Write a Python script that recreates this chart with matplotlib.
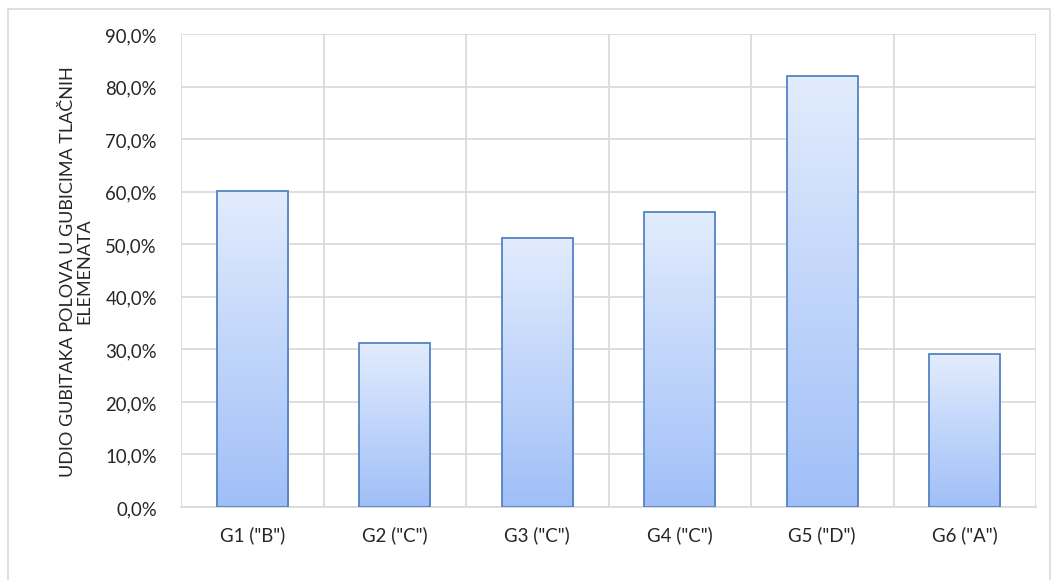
import numpy as np
import matplotlib
matplotlib.use("Agg")
import matplotlib.pyplot as plt
from matplotlib.patches import Rectangle
from matplotlib.colors import LinearSegmentedColormap
from matplotlib.ticker import FuncFormatter

categories = ['G1 ("B")', 'G2 ("C")', 'G3 ("C")', 'G4 ("C")', 'G5 ("D")', 'G6 ("A")']
values = [60.2, 31.3, 51.2, 56.1, 82.0, 29.1]
y_label = "UDIO GUBITAKA POLOVA U GUBICIMA TLAČNIH\nELEMENATA"

plt.rcParams['font.family'] = ['Lato', 'DejaVu Sans']

fig = plt.figure(figsize=(11, 6.052), dpi=96)
ax = fig.add_axes([181/1056, 1 - 508/581, (1036-181)/1056, (508-35)/581])

# frame around the whole chart
fig.patches.append(Rectangle((8/1056, -0.05), (1050-8)/1056, 1 - 10/581 + 0.05,
                             transform=fig.transFigure, fill=False,
                             edgecolor="#d9d9d9", linewidth=1.2))

# gradient fill, light at top and darker at bottom
cmap = LinearSegmentedColormap.from_list("barfill", ["#a0bff8", "#e2ecfd"])
grad = np.linspace(0, 1, 256).reshape(-1, 1)

x = np.arange(len(categories))
bars = ax.bar(x, values, width=0.5, color="none", edgecolor="#4f7fbf",
              linewidth=1.3, zorder=3)
for b in bars:
    x0, y0 = b.get_x(), b.get_y()
    w, h = b.get_width(), b.get_height()
    ax.imshow(grad, cmap=cmap, origin="lower", aspect="auto",
              extent=(x0, x0 + w, y0, y0 + h), zorder=2)

ax.set_xlim(-0.5, len(categories) - 0.5)
ax.set_ylim(0, 90)
ax.set_yticks(np.arange(0, 91, 10))
ax.yaxis.set_major_formatter(FuncFormatter(lambda v, p: f"{v:.1f}%".replace(".", ",")))
ax.set_xticks(x)
ax.set_xticklabels(categories)

# vertical grid between categories
ax.set_xticks(np.arange(-0.5, len(categories)), minor=True)
ax.grid(which="minor", axis="x", color="#d9d9d9", linewidth=1.3, zorder=0)
ax.grid(which="major", axis="y", color="#d9d9d9", linewidth=1.3, zorder=0)
ax.set_axisbelow(True)

for s in ["top", "right", "left"]:
    ax.spines[s].set_visible(False)
ax.spines["bottom"].set_color("#d9d9d9")
ax.spines["bottom"].set_linewidth(1.3)
ax.tick_params(axis="both", which="both", length=0, labelsize=14, colors="#262626")
ax.tick_params(axis="y", pad=18)
ax.tick_params(axis="x", pad=14)

ax.set_ylabel(y_label, fontsize=13.5, color="#262626", labelpad=10, linespacing=1.0)

fig.savefig("out.png", dpi=96)
